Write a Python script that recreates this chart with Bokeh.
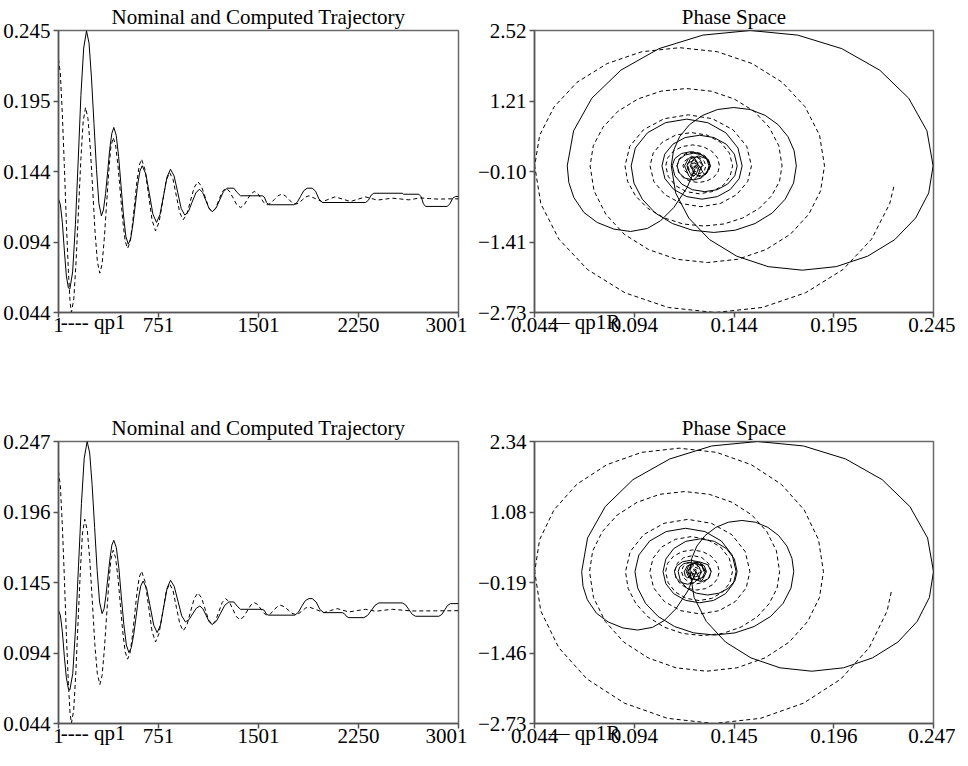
from bokeh.plotting import figure
from bokeh.layouts import column, row
from bokeh.models import FixedTicker, Range1d
from bokeh.embed import file_html
from bokeh.resources import INLINE

FONT = "Liberation Serif"
FS = "21px"

# ---------------- time-series data (step index, value) ----------------
top_qp1R = [
    (1, 0.1248), (15, 0.121), (30, 0.108), (45, 0.088), (60, 0.070), (75, 0.0615), (86, 0.0606),
    (107, 0.0729), (128, 0.1067), (149, 0.1527), (169, 0.1988), (190, 0.2325), (211, 0.2448),
    (230, 0.2360), (248, 0.2118), (267, 0.1789), (286, 0.1459), (304, 0.1217), (323, 0.1129),
    (338, 0.1171), (354, 0.1287), (370, 0.1444), (385, 0.1602), (401, 0.1717), (416, 0.1759),
    (434, 0.1703), (452, 0.1551), (470, 0.1343), (488, 0.1135), (506, 0.0983), (524, 0.0927),
    (542, 0.0964), (559, 0.1067), (577, 0.1207), (594, 0.1346), (612, 0.1449), (629, 0.1486),
    (656, 0.1427), (683, 0.1284), (709, 0.1141), (736, 0.1082),
    (762, 0.1137), (789, 0.1272), (815, 0.1406), (841, 0.1461),
    (868, 0.1413), (895, 0.1297), (921, 0.1182), (948, 0.1134),
    (976, 0.1161), (1003, 0.1227), (1031, 0.1292), (1058, 0.1319),
    (1082, 0.1295), (1106, 0.1239), (1130, 0.1182), (1154, 0.1158),
    (1182, 0.1183), (1210, 0.1242), (1238, 0.1301), (1266, 0.1326),
    (1316, 0.1326), (1341, 0.1295), (1366, 0.1272), (1529, 0.1272),
    (1545, 0.1262), (1561, 0.1225), (1578, 0.1208), (1766, 0.1208),
    (1791, 0.1225), (1816, 0.1267), (1841, 0.1309), (1866, 0.1326),
    (1904, 0.1326), (1929, 0.1305), (1954, 0.1250), (1979, 0.1224),
    (2304, 0.1224), (2325, 0.1240), (2345, 0.1275), (2366, 0.1290),
    (2579, 0.1290), (2590, 0.1283), (2704, 0.1283),
    (2721, 0.1265), (2738, 0.1215), (2754, 0.1196), (2916, 0.1196),
    (2937, 0.1215), (2958, 0.1255), (2979, 0.1267), (3001, 0.1267),
]
top_qp1 = [
    (1, 0.2246), (15, 0.214), (30, 0.185), (45, 0.148), (60, 0.108), (75, 0.074), (88, 0.051), (98, 0.0441),
    (116, 0.0539), (133, 0.0806), (151, 0.1171), (169, 0.1536), (186, 0.1803), (204, 0.1901),
    (222, 0.1822), (240, 0.1606), (258, 0.1310), (275, 0.1015), (293, 0.0799), (311, 0.0720),
    (328, 0.0785), (344, 0.0962), (361, 0.1204), (378, 0.1445), (394, 0.1622), (411, 0.1687),
    (429, 0.1634), (447, 0.1489), (465, 0.1291), (483, 0.1094), (501, 0.0949), (519, 0.0896),
    (537, 0.0939), (554, 0.1055), (572, 0.1215), (589, 0.1374), (607, 0.1490), (624, 0.1533),
    (650, 0.1458), (677, 0.1277), (703, 0.1097), (729, 0.1022),
    (755, 0.1083), (782, 0.1230), (808, 0.1377), (834, 0.1438),
    (860, 0.1389), (885, 0.1270), (911, 0.1150), (936, 0.1101),
    (964, 0.1141), (991, 0.1237), (1019, 0.1332), (1046, 0.1372),
    (1073, 0.1341), (1100, 0.1265), (1127, 0.1189), (1154, 0.1158),
    (1179, 0.1183), (1204, 0.1242), (1229, 0.1301), (1254, 0.1326),
    (1282, 0.1306), (1310, 0.1257), (1338, 0.1208), (1366, 0.1188),
    (1392, 0.1205), (1418, 0.1246), (1444, 0.1286), (1470, 0.1303),
    (1494, 0.1289), (1518, 0.1256), (1542, 0.1222), (1566, 0.1208),
    (1593, 0.1219), (1620, 0.1246), (1647, 0.1272), (1674, 0.1283),
    (1700, 0.1273), (1727, 0.1248), (1753, 0.1222), (1779, 0.1212),
    (1804, 0.1221), (1829, 0.1242), (1854, 0.1263), (1879, 0.1272),
    (1929, 0.1251), (1979, 0.1229), (2027, 0.1247), (2074, 0.1264), (2133, 0.1248),
    (2191, 0.1231), (2248, 0.1248), (2304, 0.1264), (2348, 0.1253), (2391, 0.1241),
    (2448, 0.1248), (2504, 0.1255), (2567, 0.1249), (2629, 0.1243), (2673, 0.1250),
    (2716, 0.1257), (2783, 0.1252), (2850, 0.1248), (2925, 0.1250), (3001, 0.1250),
]
bot_qp1R = [
    (1, 0.1255), (15, 0.122), (30, 0.110), (45, 0.092), (60, 0.077), (75, 0.069), (86, 0.068),
    (108, 0.0800), (129, 0.1128), (151, 0.1575), (173, 0.2023), (194, 0.2350), (216, 0.2470),
    (235, 0.2387), (253, 0.2160), (272, 0.1851), (291, 0.1541), (309, 0.1314), (328, 0.1231),
    (343, 0.1266), (357, 0.1363), (372, 0.1495), (387, 0.1627), (401, 0.1724), (416, 0.1759),
    (435, 0.1705), (454, 0.1557), (472, 0.1355), (491, 0.1153), (510, 0.1005), (529, 0.0951),
    (547, 0.0986), (565, 0.1080), (583, 0.1209), (600, 0.1337), (618, 0.1431), (636, 0.1466),
    (662, 0.1412), (689, 0.1280), (715, 0.1148), (741, 0.1094),
    (766, 0.1149), (791, 0.1283), (816, 0.1416), (841, 0.1471),
    (869, 0.1427), (897, 0.1321), (925, 0.1215), (953, 0.1171),
    (980, 0.1188), (1007, 0.1229), (1034, 0.1269), (1061, 0.1286),
    (1084, 0.1266), (1108, 0.1219), (1131, 0.1172), (1154, 0.1152),
    (1185, 0.1176), (1217, 0.1234), (1248, 0.1291), (1279, 0.1315),
    (1316, 0.1315), (1341, 0.1285), (1366, 0.1262), (1529, 0.1262), (1544, 0.1255),
    (1559, 0.1230), (1573, 0.1220), (1773, 0.1220), (1800, 0.1240), (1826, 0.1285),
    (1853, 0.1325), (1879, 0.1339), (1904, 0.1339), (1933, 0.1315), (1962, 0.1260),
    (1991, 0.1238), (2129, 0.1238), (2146, 0.1230), (2162, 0.1210), (2179, 0.1202),
    (2291, 0.1202), (2319, 0.1218), (2348, 0.1255), (2376, 0.1292), (2404, 0.1308),
    (2579, 0.1308), (2604, 0.1294), (2629, 0.1260), (2654, 0.1226), (2679, 0.1212),
    (2854, 0.1212), (2876, 0.1225), (2898, 0.1258), (2919, 0.1290), (2941, 0.1303),
    (3001, 0.1303),
]
bot_qp1 = [
    (1, 0.2255), (15, 0.215), (30, 0.186), (45, 0.149), (60, 0.108), (75, 0.073), (88, 0.051), (98, 0.0441),
    (115, 0.0538), (131, 0.0806), (148, 0.1176), (165, 0.1543), (181, 0.1812), (198, 0.1910),
    (217, 0.1830), (236, 0.1612), (255, 0.1315), (273, 0.1017), (292, 0.0800), (311, 0.0720),
    (328, 0.0785), (344, 0.0962), (361, 0.1204), (378, 0.1445), (394, 0.1622), (411, 0.1687),
    (429, 0.1634), (447, 0.1491), (465, 0.1295), (483, 0.1099), (501, 0.0956), (519, 0.0903),
    (537, 0.0945), (554, 0.1061), (572, 0.1220), (589, 0.1378), (607, 0.1494), (624, 0.1536),
    (650, 0.1462), (677, 0.1282), (703, 0.1101), (729, 0.1027),
    (755, 0.1088), (782, 0.1237), (808, 0.1386), (834, 0.1447),
    (860, 0.1397), (885, 0.1277), (911, 0.1157), (936, 0.1107),
    (964, 0.1147), (991, 0.1244), (1019, 0.1340), (1046, 0.1380),
    (1073, 0.1347), (1100, 0.1266), (1127, 0.1185), (1154, 0.1152),
    (1179, 0.1179), (1204, 0.1246), (1229, 0.1312), (1254, 0.1339),
    (1281, 0.1317), (1308, 0.1264), (1334, 0.1210), (1361, 0.1188),
    (1388, 0.1206), (1416, 0.1249), (1443, 0.1292), (1470, 0.1310),
    (1494, 0.1297), (1518, 0.1265), (1542, 0.1233), (1566, 0.1220),
    (1591, 0.1230), (1616, 0.1256), (1641, 0.1281), (1666, 0.1291),
    (1694, 0.1281), (1723, 0.1258), (1751, 0.1234), (1779, 0.1224),
    (1804, 0.1232), (1829, 0.1252), (1854, 0.1271), (1879, 0.1279),
    (1935, 0.1259), (1991, 0.1238), (2041, 0.1253), (2091, 0.1267), (2135, 0.1255),
    (2179, 0.1243), (2241, 0.1253), (2304, 0.1262), (2341, 0.1255), (2379, 0.1248),
    (2441, 0.1255), (2504, 0.1262), (2579, 0.1256), (2654, 0.1250), (2830, 0.1251),
    (3001, 0.1252),
]

# ---------------- phase-space data (qp1, velocity) ----------------
top_phase_qp1R = [
    (0.1248, -0.06), (0.1209, -0.403), (0.1142, -0.775), (0.1075, -1.023), (0.1008, -1.166), (0.0924, -1.222),
    (0.0840, -1.178), (0.0756, -1.054), (0.0689, -0.868), (0.0638, -0.589), (0.0613, -0.310), (0.0605, 0.0),
    (0.0637, 0.653), (0.0729, 1.260), (0.0875, 1.782), (0.1067, 2.182), (0.1288, 2.434), (0.1527, 2.520),
    (0.1766, 2.434), (0.1988, 2.182), (0.2179, 1.782), (0.2325, 1.260), (0.2417, 0.653), (0.2448, 0.0),
    (0.2426, -0.503), (0.2360, -0.971), (0.2255, -1.373), (0.2118, -1.682), (0.1960, -1.876), (0.1789, -1.942),
    (0.1617, -1.876), (0.1459, -1.682), (0.1322, -1.373), (0.1217, -0.971), (0.1151, -0.503), (0.1129, 0.0),
    (0.1140, 0.281), (0.1171, 0.543), (0.1221, 0.768), (0.1287, 0.940), (0.1362, 1.049), (0.1444, 1.086),
    (0.1526, 1.049), (0.1602, 0.940), (0.1667, 0.768), (0.1717, 0.543), (0.1748, 0.281), (0.1759, 0.0),
    (0.1745, -0.321), (0.1703, -0.620), (0.1638, -0.877), (0.1551, -1.074), (0.1451, -1.198), (0.1343, -1.240),
    (0.1235, -1.198), (0.1135, -1.074), (0.1048, -0.877), (0.0983, -0.620), (0.0941, -0.321), (0.0927, 0.0),
    (0.0948, 0.333), (0.1009, 0.615), (0.1100, 0.804), (0.1207, 0.870), (0.1313, 0.804), (0.1404, 0.615),
    (0.1465, 0.333), (0.1486, 0.0),
    (0.1471, -0.237), (0.1427, -0.438), (0.1361, -0.573), (0.1284, -0.620), (0.1207, -0.573), (0.1141, -0.438),
    (0.1097, -0.237), (0.1082, 0.0),
    (0.1096, 0.218), (0.1137, 0.403), (0.1199, 0.527), (0.1272, 0.570), (0.1344, 0.527), (0.1406, 0.403),
    (0.1447, 0.218), (0.1461, 0.0),
    (0.1449, -0.184), (0.1413, -0.339), (0.1360, -0.444), (0.1298, -0.480), (0.1235, -0.444), (0.1182, -0.339),
    (0.1147, -0.184), (0.1134, 0.0),
    (0.1146, 0.132), (0.1180, 0.229), (0.1227, 0.264), (0.1273, 0.229), (0.1307, 0.132), (0.1319, 0.0),
    (0.1308, -0.132), (0.1279, -0.228), (0.1239, -0.263), (0.1198, -0.228), (0.1169, -0.132), (0.1158, 0.0),
    (0.1169, 0.118), (0.1200, 0.204), (0.1242, 0.236), (0.1284, 0.204), (0.1315, 0.118), (0.1326, 0.0),
    (0.1310, -0.12), (0.1299, -0.17), (0.1288, -0.12), (0.1272, 0.0),
    (0.1256, -0.14), (0.1240, -0.20), (0.1224, -0.14), (0.1208, 0.0),
    (0.1225, 0.13), (0.1267, 0.185), (0.1309, 0.13), (0.1326, 0.0),
    (0.1301, -0.15), (0.1275, -0.21), (0.1249, -0.15), (0.1224, 0.0),
    (0.1240, 0.12), (0.1257, 0.167), (0.1274, 0.12), (0.1290, 0.0), (0.1283, 0.0),
    (0.1261, -0.19), (0.1240, -0.27), (0.1218, -0.19), (0.1196, 0.0),
    (0.1214, 0.127), (0.1232, 0.18), (0.1249, 0.127), (0.1267, 0.0),
]
top_phase_qp1 = [
    (0.2250, -0.39), (0.2229, -0.707), (0.2138, -1.365), (0.1994, -1.930), (0.1805, -2.364), (0.1587, -2.637),
    (0.1350, -2.730), (0.1114, -2.637), (0.0896, -2.364), (0.0707, -1.930), (0.0563, -1.365), (0.0472, -0.707),
    (0.0441, 0.0),
    (0.0466, 0.570), (0.0539, 1.100), (0.0654, 1.555), (0.0806, 1.905), (0.0981, 2.125), (0.1171, 2.200),
    (0.1361, 2.125), (0.1536, 1.905), (0.1688, 1.555), (0.1803, 1.100), (0.1876, 0.570), (0.1901, 0.0),
    (0.1881, -0.466), (0.1822, -0.900), (0.1729, -1.273), (0.1606, -1.559), (0.1464, -1.739), (0.1311, -1.800),
    (0.1157, -1.739), (0.1015, -1.559), (0.0892, -1.273), (0.0799, -0.900), (0.0740, -0.466), (0.0720, 0.0),
    (0.0736, 0.373), (0.0785, 0.720), (0.0861, 1.018), (0.0962, 1.247), (0.1078, 1.391), (0.1204, 1.440),
    (0.1329, 1.391), (0.1445, 1.247), (0.1546, 1.018), (0.1622, 0.720), (0.1671, 0.373), (0.1687, 0.0),
    (0.1674, -0.290), (0.1634, -0.560), (0.1572, -0.792), (0.1489, -0.970), (0.1394, -1.082), (0.1292, -1.120),
    (0.1189, -1.082), (0.1094, -0.970), (0.1011, -0.792), (0.0949, -0.560), (0.0909, -0.290), (0.0896, 0.0),
    (0.0920, 0.364), (0.0989, 0.672), (0.1093, 0.878), (0.1215, 0.950), (0.1336, 0.878), (0.1440, 0.672),
    (0.1509, 0.364), (0.1533, 0.0),
    (0.1514, -0.291), (0.1458, -0.537), (0.1375, -0.702), (0.1278, -0.760), (0.1180, -0.702), (0.1097, -0.537),
    (0.1041, -0.291), (0.1022, 0.0),
    (0.1038, 0.237), (0.1083, 0.438), (0.1151, 0.573), (0.1230, 0.620), (0.1309, 0.573), (0.1377, 0.438),
    (0.1422, 0.237), (0.1438, 0.0),
    (0.1425, -0.199), (0.1389, -0.368), (0.1334, -0.480), (0.1270, -0.520), (0.1205, -0.480), (0.1150, -0.368),
    (0.1114, -0.199), (0.1101, 0.0),
    (0.1111, 0.149), (0.1141, 0.276), (0.1185, 0.360), (0.1237, 0.390), (0.1288, 0.360), (0.1332, 0.276),
    (0.1362, 0.149), (0.1372, 0.0),
    (0.1364, -0.119), (0.1341, -0.219), (0.1306, -0.286), (0.1265, -0.310), (0.1224, -0.286), (0.1189, -0.219),
    (0.1166, -0.119), (0.1158, 0.0),
    (0.1169, 0.130), (0.1200, 0.225), (0.1242, 0.260), (0.1284, 0.225), (0.1315, 0.130), (0.1326, 0.0),
    (0.1317, -0.095), (0.1292, -0.165), (0.1257, -0.190), (0.1222, -0.165), (0.1197, -0.095), (0.1188, 0.0),
    (0.1196, 0.085), (0.1217, 0.147), (0.1246, 0.170), (0.1274, 0.147), (0.1295, 0.085), (0.1303, 0.0),
    (0.1297, -0.078), (0.1279, -0.134), (0.1256, -0.155), (0.1232, -0.134), (0.1214, -0.078), (0.1208, 0.0),
    (0.1213, 0.055), (0.1227, 0.094), (0.1246, 0.109), (0.1264, 0.094), (0.1278, 0.055), (0.1283, 0.0),
    (0.1278, -0.053), (0.1265, -0.092), (0.1248, -0.106), (0.1230, -0.092), (0.1217, -0.053), (0.1212, 0.0),
    (0.1221, 0.066), (0.1242, 0.094), (0.1263, 0.066), (0.1272, 0.0),
    (0.1266, -0.048), (0.1251, -0.068), (0.1235, -0.048), (0.1229, 0.0),
    (0.1234, 0.041), (0.1247, 0.058), (0.1259, 0.041), (0.1264, 0.0),
    (0.1259, -0.031), (0.1248, -0.044), (0.1236, -0.031), (0.1231, 0.0),
    (0.1236, 0.033), (0.1248, 0.046), (0.1259, 0.033), (0.1264, 0.0),
    (0.1261, -0.029), (0.1253, -0.041), (0.1244, -0.029), (0.1241, 0.0),
    (0.1248, 0.02), (0.1255, 0.0), (0.1249, -0.015), (0.1243, 0.0), (0.1250, 0.025), (0.1257, 0.0),
    (0.1253, -0.01), (0.1250, 0.0),
]
bot_phase_qp1R = [
    (0.1255, -0.052), (0.1220, -0.346), (0.1160, -0.666), (0.1100, -0.879), (0.1040, -1.002), (0.0965, -1.050),
    (0.0890, -1.012), (0.0815, -0.905), (0.0755, -0.746), (0.0709, -0.506), (0.0687, -0.266), (0.0680, 0.0),
    (0.0710, 0.606), (0.0800, 1.170), (0.0941, 1.654), (0.1128, 2.026), (0.1342, 2.260), (0.1575, 2.340),
    (0.1808, 2.260), (0.2023, 2.026), (0.2209, 1.654), (0.2350, 1.170), (0.2440, 0.606), (0.2470, 0.0),
    (0.2449, -0.464), (0.2387, -0.895), (0.2289, -1.266), (0.2160, -1.550), (0.2012, -1.729), (0.1851, -1.790),
    (0.1689, -1.729), (0.1541, -1.550), (0.1412, -1.266), (0.1314, -0.895), (0.1252, -0.464), (0.1231, 0.0),
    (0.1240, 0.238), (0.1266, 0.460), (0.1308, 0.650), (0.1363, 0.797), (0.1426, 0.889), (0.1495, 0.920),
    (0.1564, 0.889), (0.1627, 0.797), (0.1682, 0.650), (0.1724, 0.460), (0.1750, 0.238), (0.1759, 0.0),
    (0.1745, -0.295), (0.1705, -0.570), (0.1641, -0.806), (0.1557, -0.987), (0.1460, -1.101), (0.1355, -1.140),
    (0.1250, -1.101), (0.1153, -0.987), (0.1069, -0.806), (0.1005, -0.570), (0.0965, -0.295), (0.0951, 0.0),
    (0.0971, 0.299), (0.1026, 0.551), (0.1110, 0.721), (0.1209, 0.780), (0.1307, 0.721), (0.1391, 0.551),
    (0.1446, 0.299), (0.1466, 0.0),
    (0.1452, -0.214), (0.1412, -0.396), (0.1351, -0.517), (0.1280, -0.560), (0.1209, -0.517), (0.1148, -0.396),
    (0.1108, -0.214), (0.1094, 0.0),
    (0.1108, 0.226), (0.1149, 0.417), (0.1210, 0.545), (0.1283, 0.590), (0.1355, 0.545), (0.1416, 0.417),
    (0.1457, 0.226), (0.1471, 0.0),
    (0.1460, -0.161), (0.1427, -0.297), (0.1378, -0.388), (0.1321, -0.420), (0.1264, -0.388), (0.1215, -0.297),
    (0.1182, -0.161), (0.1171, 0.0),
    (0.1179, 0.084), (0.1200, 0.145), (0.1229, 0.167), (0.1257, 0.145), (0.1278, 0.084), (0.1286, 0.0),
    (0.1277, -0.113), (0.1253, -0.196), (0.1219, -0.226), (0.1186, -0.196), (0.1161, -0.113), (0.1152, 0.0),
    (0.1163, 0.103), (0.1193, 0.178), (0.1234, 0.205), (0.1274, 0.178), (0.1304, 0.103), (0.1315, 0.0),
    (0.1299, -0.118), (0.1289, -0.167), (0.1278, -0.118), (0.1262, 0.0),
    (0.1250, -0.106), (0.1241, -0.150), (0.1232, -0.106), (0.1220, 0.0),
    (0.1237, 0.124), (0.1280, 0.176), (0.1322, 0.124), (0.1339, 0.0),
    (0.1324, -0.129), (0.1289, -0.182), (0.1253, -0.129), (0.1238, 0.0),
    (0.1233, -0.080), (0.1220, -0.113), (0.1207, -0.080), (0.1202, 0.0),
    (0.1217, 0.104), (0.1255, 0.147), (0.1293, 0.104), (0.1308, 0.0),
    (0.1294, -0.107), (0.1260, -0.151), (0.1226, -0.107), (0.1212, 0.0),
    (0.1225, 0.116), (0.1258, 0.164), (0.1290, 0.116), (0.1303, 0.0),
]
bot_phase_qp1 = [
    (0.2255, -0.365), (0.2234, -0.707), (0.2143, -1.365), (0.1999, -1.930), (0.1809, -2.364), (0.1590, -2.637),
    (0.1353, -2.730), (0.1116, -2.637), (0.0897, -2.364), (0.0707, -1.930), (0.0563, -1.365), (0.0472, -0.707),
    (0.0441, 0.0),
    (0.0466, 0.575), (0.0539, 1.110), (0.0655, 1.570), (0.0808, 1.923), (0.0985, 2.145), (0.1176, 2.220),
    (0.1366, 2.145), (0.1543, 1.923), (0.1696, 1.570), (0.1812, 1.110), (0.1885, 0.575), (0.1910, 0.0),
    (0.1890, -0.464), (0.1830, -0.895), (0.1736, -1.266), (0.1613, -1.550), (0.1470, -1.729), (0.1315, -1.790),
    (0.1160, -1.729), (0.1018, -1.550), (0.0894, -1.266), (0.0800, -0.895), (0.0740, -0.464), (0.0720, 0.0),
    (0.0736, 0.373), (0.0785, 0.720), (0.0861, 1.018), (0.0962, 1.247), (0.1078, 1.391), (0.1204, 1.440),
    (0.1329, 1.391), (0.1445, 1.247), (0.1546, 1.018), (0.1622, 0.720), (0.1671, 0.373), (0.1687, 0.0),
    (0.1674, -0.298), (0.1634, -0.575), (0.1573, -0.813), (0.1491, -0.996), (0.1397, -1.111), (0.1295, -1.150),
    (0.1193, -1.111), (0.1099, -0.996), (0.1017, -0.813), (0.0956, -0.575), (0.0916, -0.298), (0.0903, 0.0),
    (0.0927, 0.360), (0.0995, 0.665), (0.1099, 0.869), (0.1220, 0.940), (0.1340, 0.869), (0.1444, 0.665),
    (0.1512, 0.360), (0.1536, 0.0),
    (0.1517, -0.291), (0.1462, -0.537), (0.1379, -0.702), (0.1282, -0.760), (0.1184, -0.702), (0.1101, -0.537),
    (0.1046, -0.291), (0.1027, 0.0),
    (0.1043, 0.241), (0.1088, 0.445), (0.1157, 0.582), (0.1237, 0.630), (0.1317, 0.582), (0.1386, 0.445),
    (0.1431, 0.241), (0.1447, 0.0),
    (0.1434, -0.199), (0.1397, -0.368), (0.1342, -0.480), (0.1277, -0.520), (0.1212, -0.480), (0.1157, -0.368),
    (0.1120, -0.199), (0.1107, 0.0),
    (0.1117, 0.149), (0.1147, 0.276), (0.1191, 0.360), (0.1244, 0.390), (0.1296, 0.360), (0.1340, 0.276),
    (0.1370, 0.149), (0.1380, 0.0),
    (0.1371, -0.126), (0.1347, -0.233), (0.1310, -0.305), (0.1266, -0.330), (0.1222, -0.305), (0.1185, -0.233),
    (0.1161, -0.126), (0.1152, 0.0),
    (0.1165, 0.145), (0.1199, 0.251), (0.1246, 0.290), (0.1292, 0.251), (0.1326, 0.145), (0.1339, 0.0),
    (0.1329, -0.110), (0.1301, -0.191), (0.1264, -0.220), (0.1226, -0.191), (0.1198, -0.110), (0.1188, 0.0),
    (0.1196, 0.088), (0.1219, 0.152), (0.1249, 0.176), (0.1280, 0.152), (0.1302, 0.088), (0.1310, 0.0),
    (0.1304, -0.074), (0.1288, -0.127), (0.1265, -0.147), (0.1243, -0.127), (0.1226, -0.074), (0.1220, 0.0),
    (0.1225, 0.056), (0.1238, 0.097), (0.1256, 0.112), (0.1273, 0.097), (0.1286, 0.056), (0.1291, 0.0),
    (0.1281, -0.066), (0.1258, -0.093), (0.1234, -0.066), (0.1224, 0.0),
    (0.1232, 0.061), (0.1252, 0.086), (0.1271, 0.061), (0.1279, 0.0),
    (0.1273, -0.041), (0.1259, -0.058), (0.1244, -0.041), (0.1238, 0.0),
    (0.1242, 0.033), (0.1253, 0.046), (0.1263, 0.033), (0.1267, 0.0),
    (0.1263, -0.030), (0.1255, -0.043), (0.1247, -0.030), (0.1243, 0.0),
    (0.1252, 0.024), (0.1262, 0.0), (0.1255, -0.020), (0.1248, 0.0), (0.1255, 0.020), (0.1262, 0.0),
    (0.1256, -0.010), (0.1250, 0.0),
]

# ---------------- axes: ranges, ticks and tick labels ----------------
step_range = (1, 3001)
step_ticks = [1, 751, 1501, 2251, 3001]
step_labels = ["1", "751", "1501", "2250", "3001"]

top_q_range = (0.044, 0.245)
top_q_ticks = [0.044, 0.09425, 0.1445, 0.19475, 0.245]
top_q_labels = ["0.044", "0.094", "0.144", "0.195", "0.245"]
top_v_range = (-2.73, 2.52)
top_v_ticks = [-2.73, -1.4175, -0.105, 1.2075, 2.52]
top_v_labels = ["\u22122.73", "\u22121.41", "\u22120.10", "1.21", "2.52"]

bot_q_range = (0.044, 0.247)
bot_q_ticks = [0.044, 0.09475, 0.1455, 0.19625, 0.247]
bot_q_labels = ["0.044", "0.094", "0.145", "0.196", "0.247"]
bot_v_range = (-2.73, 2.34)
bot_v_ticks = [-2.73, -1.4625, -0.195, 1.0725, 2.34]
bot_v_labels = ["\u22122.73", "\u22121.46", "\u22120.19", "1.08", "2.34"]

# legend entries (key sample + series name), shown under the x axis
legend_ts = "----\u00a0qp1"
legend_phase = "\u2014\u00a0qp1R"

DASH = "4 3"
NBSP = "\u00a0"


def make_fig(title, xr, yr, xt, xl, yt, yl, frame_w, bl, br, bb, legend_text, pad):
    p = figure(output_backend="svg", toolbar_location=None,
               frame_width=frame_w, frame_height=282,
               min_border_left=bl, min_border_right=br,
               min_border_top=30, min_border_bottom=bb,
               x_range=Range1d(*xr), y_range=Range1d(*yr),
               title=title)
    p.background_fill_color = "white"
    p.border_fill_color = "white"
    p.outline_line_color = "#6a6a6a"
    p.outline_line_width = 1.5
    p.xgrid.visible = False
    p.ygrid.visible = False
    p.title.text_font = FONT
    p.title.text_font_size = FS
    p.title.text_font_style = "normal"
    p.title.text_color = "black"
    p.title.align = "center"
    p.title.standoff = 4
    p.title.text_line_height = 1.0
    for ax, ticks, labels in ((p.xaxis[0], xt, xl), (p.yaxis[0], yt, yl)):
        ax.ticker = FixedTicker(ticks=ticks)
        ax.major_label_overrides = {t: s for t, s in zip(ticks, labels)}
        ax.axis_line_color = "#555555"
        ax.axis_line_width = 1.5
        ax.major_tick_line_color = "#555555"
        ax.major_tick_line_width = 1.5
        ax.major_tick_out = 5
        ax.major_tick_in = 0
        ax.minor_tick_line_color = None
        ax.major_label_text_font = FONT
        ax.major_label_text_font_size = FS
        ax.major_label_text_color = "black"
    xa = p.xaxis[0]
    xa.major_label_standoff = 0
    p.yaxis[0].major_label_standoff = 3
    # legend text drawn as the (centred) x-axis label; trailing no-break
    # spaces push the visible part to the left end, under the frame corner
    xa.axis_label = legend_text + NBSP * pad
    xa.axis_label_text_font = FONT
    xa.axis_label_text_font_size = FS
    xa.axis_label_text_font_style = "normal"
    xa.axis_label_text_color = "black"
    xa.axis_label_standoff = -25
    return p


def draw_ts(p, solid, dashed):
    ts, vs = zip(*solid)
    td, vd = zip(*dashed)
    p.line(list(ts), list(vs), line_color="black", line_width=1)
    p.line(list(td), list(vd), line_color="black", line_width=1, line_dash=DASH)


def draw_phase(p, solid, dashed):
    xs, ys = zip(*solid)
    xd, yd = zip(*dashed)
    p.line(list(xs), list(ys), line_color="black", line_width=1)
    p.line(list(xd), list(yd), line_color="black", line_width=1, line_dash=DASH)


p1 = make_fig("Nominal and Computed Trajectory", step_range, top_q_range,
              step_ticks, step_labels, top_q_ticks, top_q_labels, 400, 55, 9, 99, legend_ts, 63)
draw_ts(p1, top_qp1R, top_qp1)

p2 = make_fig("Phase Space", top_q_range, top_v_range,
              top_q_ticks, top_q_labels, top_v_ticks, top_v_labels, 399, 67, 22, 99, legend_phase, 57)
draw_phase(p2, top_phase_qp1R, top_phase_qp1)

p3 = make_fig("Nominal and Computed Trajectory", step_range, bot_q_range,
              step_ticks, step_labels, bot_q_ticks, bot_q_labels, 400, 55, 9, 26, legend_ts, 63)
draw_ts(p3, bot_qp1R, bot_qp1)

p4 = make_fig("Phase Space", bot_q_range, bot_v_range,
              bot_q_ticks, bot_q_labels, bot_v_ticks, bot_v_labels, 399, 67, 22, 26, legend_phase, 57)
draw_phase(p4, bot_phase_qp1R, bot_phase_qp1)

layout = column(row(p1, p2), row(p3, p4))

open("out.html", "w").write(file_html(layout, INLINE))
